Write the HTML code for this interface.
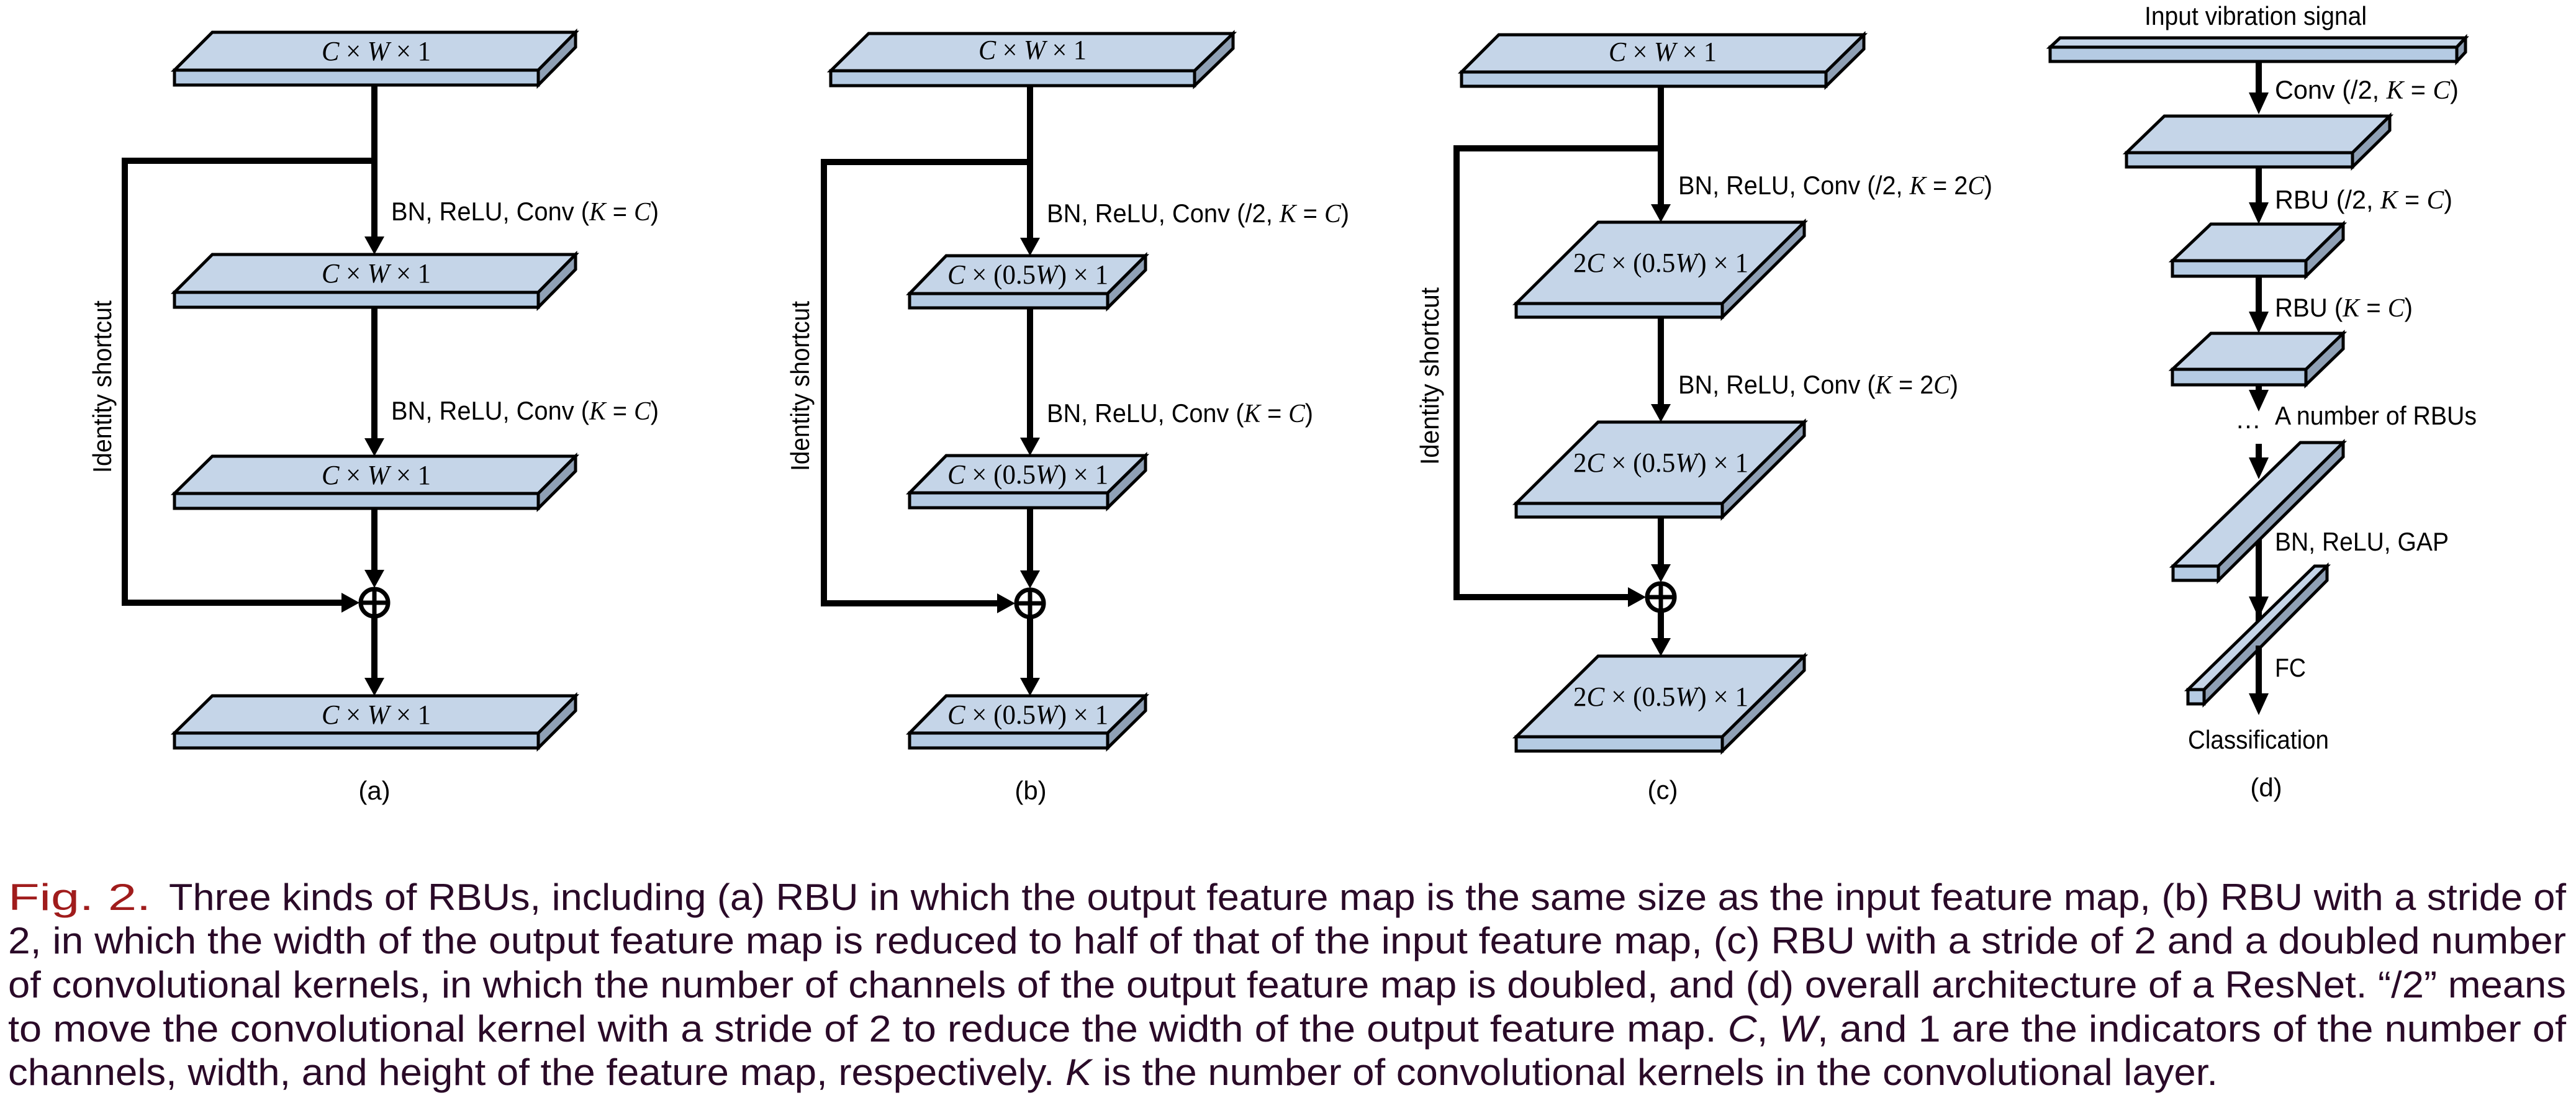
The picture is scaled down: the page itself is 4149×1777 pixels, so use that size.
<!DOCTYPE html>
<html><head><meta charset="utf-8"><style>
html,body{margin:0;padding:0;background:#fff;}
svg{display:block;}
.t{fill:#c5d5e8;stroke:#000;stroke-width:5;stroke-linejoin:miter}
.f{fill:#b5cbe3;stroke:#000;stroke-width:5}
.s{fill:#8fa0b5;stroke:#000;stroke-width:5;stroke-linejoin:miter}
.ln{stroke:#000;stroke-width:10;fill:none}
.lbl{font-family:"Liberation Sans",sans-serif;font-size:42px;fill:#000}
.m{font-family:"Liberation Serif",serif;font-size:44px;fill:#000}
.i{font-family:"Liberation Serif",serif;font-style:italic}
.cap{font-family:"Liberation Sans",sans-serif;font-size:60px;fill:#2a0a28}
</style></head><body>
<svg width="4149" height="1777" viewBox="0 0 4149 1777" xmlns="http://www.w3.org/2000/svg">
<rect width="4149" height="1777" fill="#fff"/>

<!-- ============ Panel (a) ============ -->
<g>
<line class="ln" x1="603" y1="137" x2="603" y2="382"/>
<line class="ln" x1="603" y1="495" x2="603" y2="708"/>
<line class="ln" x1="603" y1="819" x2="603" y2="920"/>
<line class="ln" x1="603" y1="995" x2="603" y2="1094"/>
<path class="ln" d="M603,259 H201 V971 H552"/>
<polygon points="603,410 587,381 619,381"/>
<polygon points="603,735 587,706 619,706"/>
<polygon points="603,947 587,918 619,918"/>
<polygon points="603,1121 587,1092 619,1092"/>
<polygon points="579,971 550,955 550,987"/>
<circle cx="603" cy="971" r="22" fill="none" stroke="#000" stroke-width="7"/>
<line x1="581" y1="971" x2="625" y2="971" stroke="#000" stroke-width="7"/>
<line x1="603" y1="949" x2="603" y2="993" stroke="#000" stroke-width="7"/>

<polygon class="t" points="281,113 342,52 927,52 867,113"/><rect class="f" x="281" y="113" width="586" height="24"/><polygon class="s" points="867,113 927,52 927,76 867,137"/>
<polygon class="t" points="281,471 342,410 927,410 867,471"/><rect class="f" x="281" y="471" width="586" height="24"/><polygon class="s" points="867,471 927,410 927,434 867,495"/>
<polygon class="t" points="281,795 342,735 927,735 867,795"/><rect class="f" x="281" y="795" width="586" height="24"/><polygon class="s" points="867,795 927,735 927,759 867,819"/>
<polygon class="t" points="281,1181 342,1121 927,1121 867,1181"/><rect class="f" x="281" y="1181" width="586" height="24"/><polygon class="s" points="867,1181 927,1121 927,1145 867,1205"/>

<text class="m" x="518" y="97" textLength="176" lengthAdjust="spacingAndGlyphs"><tspan class="i">C</tspan> × <tspan class="i">W</tspan> × 1</text>
<text class="m" x="518" y="455" textLength="176" lengthAdjust="spacingAndGlyphs"><tspan class="i">C</tspan> × <tspan class="i">W</tspan> × 1</text>
<text class="m" x="518" y="780" textLength="176" lengthAdjust="spacingAndGlyphs"><tspan class="i">C</tspan> × <tspan class="i">W</tspan> × 1</text>
<text class="m" x="518" y="1166" textLength="176" lengthAdjust="spacingAndGlyphs"><tspan class="i">C</tspan> × <tspan class="i">W</tspan> × 1</text>

<text class="lbl" x="630" y="355" textLength="431" lengthAdjust="spacingAndGlyphs">BN, ReLU, Conv (<tspan class="i">K</tspan> = <tspan class="i">C</tspan>)</text>
<text class="lbl" x="630" y="676" textLength="431" lengthAdjust="spacingAndGlyphs">BN, ReLU, Conv (<tspan class="i">K</tspan> = <tspan class="i">C</tspan>)</text>
<text class="lbl" transform="translate(179,623) rotate(-90)" text-anchor="middle" textLength="278" lengthAdjust="spacingAndGlyphs">Identity shortcut</text>
<text class="lbl" x="603" y="1288" text-anchor="middle">(a)</text>
</g>

<!-- ============ Panel (b) ============ -->
<g>
<line class="ln" x1="1659" y1="138" x2="1659" y2="384"/>
<line class="ln" x1="1659" y1="496" x2="1659" y2="706"/>
<line class="ln" x1="1659" y1="818" x2="1659" y2="920"/>
<line class="ln" x1="1659" y1="996" x2="1659" y2="1094"/>
<path class="ln" d="M1659,261 H1327 V972 H1608"/>
<polygon points="1659,412 1643,383 1675,383"/>
<polygon points="1659,734 1643,705 1675,705"/>
<polygon points="1659,948 1643,919 1675,919"/>
<polygon points="1659,1121 1643,1092 1675,1092"/>
<polygon points="1635,972 1606,956 1606,988"/>
<circle cx="1659" cy="972" r="22" fill="none" stroke="#000" stroke-width="7"/>
<line x1="1637" y1="972" x2="1681" y2="972" stroke="#000" stroke-width="7"/>
<line x1="1659" y1="950" x2="1659" y2="994" stroke="#000" stroke-width="7"/>

<polygon class="t" points="1338,114 1399,54 1986,54 1924,114"/><rect class="f" x="1338" y="114" width="586" height="24"/><polygon class="s" points="1924,114 1986,54 1986,78 1924,138"/>
<polygon class="t" points="1465,473 1524,412 1845,412 1784,473"/><rect class="f" x="1465" y="473" width="319" height="23"/><polygon class="s" points="1784,473 1845,412 1845,435 1784,496"/>
<polygon class="t" points="1465,794 1524,734 1845,734 1784,794"/><rect class="f" x="1465" y="794" width="319" height="24"/><polygon class="s" points="1784,794 1845,734 1845,758 1784,818"/>
<polygon class="t" points="1465,1181 1524,1121 1845,1121 1784,1181"/><rect class="f" x="1465" y="1181" width="319" height="24"/><polygon class="s" points="1784,1181 1845,1121 1845,1145 1784,1205"/>

<text class="m" x="1576" y="95" textLength="174" lengthAdjust="spacingAndGlyphs"><tspan class="i">C</tspan> × <tspan class="i">W</tspan> × 1</text>
<text class="m" x="1526" y="457" textLength="259" lengthAdjust="spacingAndGlyphs"><tspan class="i">C</tspan> × (0.5<tspan class="i">W</tspan>) × 1</text>
<text class="m" x="1526" y="779" textLength="259" lengthAdjust="spacingAndGlyphs"><tspan class="i">C</tspan> × (0.5<tspan class="i">W</tspan>) × 1</text>
<text class="m" x="1526" y="1166" textLength="259" lengthAdjust="spacingAndGlyphs"><tspan class="i">C</tspan> × (0.5<tspan class="i">W</tspan>) × 1</text>

<text class="lbl" x="1686" y="358" textLength="487" lengthAdjust="spacingAndGlyphs">BN, ReLU, Conv (/2, <tspan class="i">K</tspan> = <tspan class="i">C</tspan>)</text>
<text class="lbl" x="1686" y="680" textLength="429" lengthAdjust="spacingAndGlyphs">BN, ReLU, Conv (<tspan class="i">K</tspan> = <tspan class="i">C</tspan>)</text>
<text class="lbl" transform="translate(1303,622) rotate(-90)" text-anchor="middle" textLength="274" lengthAdjust="spacingAndGlyphs">Identity shortcut</text>
<text class="lbl" x="1660" y="1288" text-anchor="middle">(b)</text>
</g>

<!-- ============ Panel (c) ============ -->
<g>
<line class="ln" x1="2675" y1="139" x2="2675" y2="330"/>
<line class="ln" x1="2675" y1="511" x2="2675" y2="652"/>
<line class="ln" x1="2675" y1="833" x2="2675" y2="910"/>
<line class="ln" x1="2675" y1="986" x2="2675" y2="1030"/>
<path class="ln" d="M2675,239 H2346 V962 H2624"/>
<polygon points="2675,358 2659,329 2691,329"/>
<polygon points="2675,680 2659,651 2691,651"/>
<polygon points="2675,938 2659,909 2691,909"/>
<polygon points="2675,1057 2659,1028 2691,1028"/>
<polygon points="2651,962 2622,946 2622,978"/>
<circle cx="2675" cy="962" r="22" fill="none" stroke="#000" stroke-width="7"/>
<line x1="2653" y1="962" x2="2697" y2="962" stroke="#000" stroke-width="7"/>
<line x1="2675" y1="940" x2="2675" y2="984" stroke="#000" stroke-width="7"/>

<polygon class="t" points="2354,116 2414,56 3002,56 2941,116"/><rect class="f" x="2354" y="116" width="587" height="23"/><polygon class="s" points="2941,116 3002,56 3002,79 2941,139"/>
<polygon class="t" points="2442,489 2574,358 2906,358 2774,489"/><rect class="f" x="2442" y="489" width="332" height="22"/><polygon class="s" points="2774,489 2906,358 2906,380 2774,511"/>
<polygon class="t" points="2442,811 2574,680 2906,680 2774,811"/><rect class="f" x="2442" y="811" width="332" height="22"/><polygon class="s" points="2774,811 2906,680 2906,702 2774,833"/>
<polygon class="t" points="2442,1187 2574,1057 2906,1057 2774,1187"/><rect class="f" x="2442" y="1187" width="332" height="23"/><polygon class="s" points="2774,1187 2906,1057 2906,1080 2774,1210"/>

<text class="m" x="2591" y="98" textLength="174" lengthAdjust="spacingAndGlyphs"><tspan class="i">C</tspan> × <tspan class="i">W</tspan> × 1</text>
<text class="m" x="2534" y="438" font-size="46" textLength="282" lengthAdjust="spacingAndGlyphs">2<tspan class="i">C</tspan> × (0.5<tspan class="i">W</tspan>) × 1</text>
<text class="m" x="2534" y="760" font-size="46" textLength="282" lengthAdjust="spacingAndGlyphs">2<tspan class="i">C</tspan> × (0.5<tspan class="i">W</tspan>) × 1</text>
<text class="m" x="2534" y="1137" font-size="46" textLength="282" lengthAdjust="spacingAndGlyphs">2<tspan class="i">C</tspan> × (0.5<tspan class="i">W</tspan>) × 1</text>

<text class="lbl" x="2703" y="313" textLength="506" lengthAdjust="spacingAndGlyphs">BN, ReLU, Conv (/2, <tspan class="i">K</tspan> = 2<tspan class="i">C</tspan>)</text>
<text class="lbl" x="2703" y="634" textLength="451" lengthAdjust="spacingAndGlyphs">BN, ReLU, Conv (<tspan class="i">K</tspan> = 2<tspan class="i">C</tspan>)</text>
<text class="lbl" transform="translate(2317,606) rotate(-90)" text-anchor="middle" textLength="286" lengthAdjust="spacingAndGlyphs">Identity shortcut</text>
<text class="lbl" x="2678" y="1287" text-anchor="middle">(c)</text>
</g>

<!-- ============ Panel (d) ============ -->
<g>
<line class="ln" x1="3638" y1="99" x2="3638" y2="152"/>
<line class="ln" x1="3638" y1="269" x2="3638" y2="329"/>
<line class="ln" x1="3638" y1="445" x2="3638" y2="505"/>
<line class="ln" x1="3638" y1="620" x2="3638" y2="632"/>
<line class="ln" x1="3638" y1="715" x2="3638" y2="740"/>
<line class="ln" x1="3638" y1="860" x2="3638" y2="1120"/>
<polygon points="3638,184 3622,149 3654,149"/>
<polygon points="3638,361 3622,326 3654,326"/>
<polygon points="3638,537 3622,502 3654,502"/>
<polygon points="3638,663 3622,628 3654,628"/>
<polygon points="3638,772 3622,737 3654,737"/>
<polygon points="3638,996 3622,961 3654,961"/>
<polygon points="3638,1152 3622,1117 3654,1117"/>

<polygon class="t" points="3302,76 3318,61 3971,61 3957,76"/><rect class="f" x="3302" y="76" width="655" height="23"/><polygon class="s" points="3957,76 3971,61 3971,84 3957,99"/>
<polygon class="t" points="3425,246 3486,187 3849,187 3789,246"/><rect class="f" x="3425" y="246" width="364" height="23"/><polygon class="s" points="3789,246 3849,187 3849,210 3789,269"/>
<polygon class="t" points="3499,420 3561,361 3774,361 3714,420"/><rect class="f" x="3499" y="420" width="215" height="25"/><polygon class="s" points="3714,420 3774,361 3774,386 3714,445"/>
<polygon class="t" points="3499,595 3561,537 3774,537 3714,595"/><rect class="f" x="3499" y="595" width="215" height="25"/><polygon class="s" points="3714,595 3774,537 3774,562 3714,620"/>
<polygon class="t" points="3500,912 3705,713 3774,713 3573,912"/><rect class="f" x="3500" y="912" width="73" height="23"/><polygon class="s" points="3573,912 3774,713 3774,736 3573,935"/>
<polygon class="t" points="3524,1111 3728,912 3748,912 3550,1111"/><rect class="f" x="3524" y="1111" width="26" height="23"/><polygon class="s" points="3550,1111 3748,912 3748,935 3550,1134"/>
<line class="ln" x1="3638" y1="1040" x2="3638" y2="1120"/>

<text class="lbl" x="3454" y="40" textLength="358" lengthAdjust="spacingAndGlyphs">Input vibration signal</text>
<text class="lbl" x="3664" y="159" textLength="296" lengthAdjust="spacingAndGlyphs">Conv (/2, <tspan class="i">K</tspan> = <tspan class="i">C</tspan>)</text>
<text class="lbl" x="3664" y="336" textLength="286" lengthAdjust="spacingAndGlyphs">RBU (/2, <tspan class="i">K</tspan> = <tspan class="i">C</tspan>)</text>
<text class="lbl" x="3664" y="510" textLength="222" lengthAdjust="spacingAndGlyphs">RBU (<tspan class="i">K</tspan> = <tspan class="i">C</tspan>)</text>
<text class="lbl" x="3600" y="690">…</text>
<text class="lbl" x="3664" y="684" textLength="325" lengthAdjust="spacingAndGlyphs">A number of RBUs</text>
<text class="lbl" x="3664" y="887" textLength="280" lengthAdjust="spacingAndGlyphs">BN, ReLU, GAP</text>
<text class="lbl" x="3664" y="1090" textLength="50" lengthAdjust="spacingAndGlyphs">FC</text>
<text class="lbl" x="3524" y="1206" textLength="227" lengthAdjust="spacingAndGlyphs">Classification</text>
<text class="lbl" x="3650" y="1283" text-anchor="middle">(d)</text>
</g>

<!-- ============ Caption ============ -->
<text class="cap" x="13" y="1466" style="fill:#a01c1c" textLength="230" lengthAdjust="spacingAndGlyphs">Fig. 2.</text>
<text class="cap" x="272" y="1466" textLength="3861" lengthAdjust="spacingAndGlyphs">Three kinds of RBUs, including (a) RBU in which the output feature map is the same size as the input feature map, (b) RBU with a stride of</text>
<text class="cap" x="13" y="1536" textLength="4120" lengthAdjust="spacingAndGlyphs">2, in which the width of the output feature map is reduced to half of that of the input feature map, (c) RBU with a stride of 2 and a doubled number</text>
<text class="cap" x="13" y="1607" textLength="4120" lengthAdjust="spacingAndGlyphs">of convolutional kernels, in which the number of channels of the output feature map is doubled, and (d) overall architecture of a ResNet. “/2” means</text>
<text class="cap" x="13" y="1678" textLength="4120" lengthAdjust="spacingAndGlyphs">to move the convolutional kernel with a stride of 2 to reduce the width of the output feature map. <tspan font-style="italic">C</tspan>, <tspan font-style="italic">W</tspan>, and 1 are the indicators of the number of</text>
<text class="cap" x="13" y="1748" textLength="3559" lengthAdjust="spacingAndGlyphs">channels, width, and height of the feature map, respectively. <tspan font-style="italic">K</tspan> is the number of convolutional kernels in the convolutional layer.</text>
</svg>
</body></html>
